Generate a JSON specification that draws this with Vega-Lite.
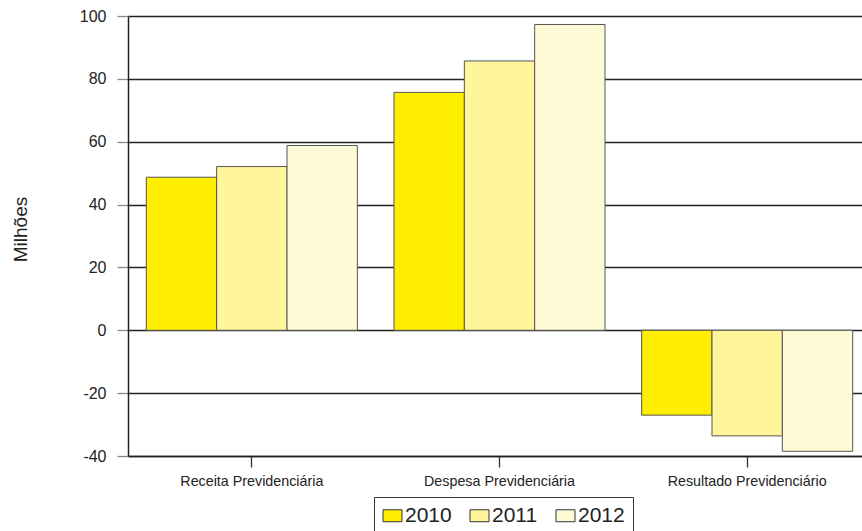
{
  "$schema": "https://vega.github.io/schema/vega-lite/v6.json",
  "width": 734,
  "height": 440,
  "autosize": {"type": "none"},
  "padding": {"left": 128, "top": 16, "right": 0, "bottom": 75},
  "background": "white",
  "config": {
    "view": {"stroke": null},
    "font": "Liberation Sans"
  },
  "data": {
    "values": [
      {"categoria": "Receita Previdenciária", "ano": "2010", "valor": 48.7},
      {"categoria": "Receita Previdenciária", "ano": "2011", "valor": 52.1},
      {"categoria": "Receita Previdenciária", "ano": "2012", "valor": 58.8},
      {"categoria": "Despesa Previdenciária", "ano": "2010", "valor": 75.7},
      {"categoria": "Despesa Previdenciária", "ano": "2011", "valor": 85.7},
      {"categoria": "Despesa Previdenciária", "ano": "2012", "valor": 97.3},
      {"categoria": "Resultado Previdenciário", "ano": "2010", "valor": -27.0},
      {"categoria": "Resultado Previdenciário", "ano": "2011", "valor": -33.6},
      {"categoria": "Resultado Previdenciário", "ano": "2012", "valor": -38.5}
    ]
  },
  "mark": {"type": "bar", "stroke": "#555555", "strokeWidth": 1},
  "encoding": {
    "x": {
      "field": "categoria",
      "type": "nominal",
      "sort": ["Receita Previdenciária", "Despesa Previdenciária", "Resultado Previdenciário"],
      "scale": {"range": [0, 743], "paddingInner": 0.148, "paddingOuter": 0.074},
      "axis": {
        "title": null,
        "labelAngle": 0,
        "labelFont": "Liberation Sans",
        "labelFontSize": 14.3,
        "labelColor": "#222222",
        "labelPadding": 7,
        "tickSize": 11,
        "tickColor": "#333333",
        "tickWidth": 1.3,
        "domainColor": "#222222",
        "domainWidth": 1.5,
        "bandPosition": 0.5,
        "grid": false
      }
    },
    "xOffset": {
      "field": "ano",
      "type": "nominal",
      "scale": {"paddingInner": 0, "paddingOuter": 0}
    },
    "y": {
      "field": "valor",
      "type": "quantitative",
      "scale": {"domain": [-40, 100], "nice": false, "zero": false},
      "axis": {
        "title": "Milhões",
        "titleFont": "Liberation Sans",
        "titleFontSize": 19,
        "titleFontWeight": "normal",
        "titleColor": "#222222",
        "titleX": -108,
        "titleY": 213,
        "titleAngle": -90,
        "titleAlign": "center",
        "titleBaseline": "middle",
        "values": [-40, -20, 0, 20, 40, 60, 80, 100],
        "labelExpr": "'' + datum.value",
        "labelFont": "Liberation Sans",
        "labelFontSize": 16,
        "labelColor": "#222222",
        "labelPadding": 11,
        "tickSize": 11,
        "tickColor": "#888888",
        "tickWidth": 1.3,
        "domainColor": "#222222",
        "domainWidth": 1.5,
        "grid": true,
        "gridColor": "#222222",
        "gridWidth": 1.3,
        "gridOpacity": 1
      }
    },
    "fill": {
      "field": "ano",
      "type": "nominal",
      "scale": {"domain": ["2010", "2011", "2012"], "range": ["#FFEE00", "#FFF59B", "#FFFAD6"]},
      "legend": {
        "title": null,
        "orient": "none",
        "direction": "horizontal",
        "legendX": 246,
        "legendY": 481,
        "strokeColor": "#333333",
        "padding": 8,
        "symbolType": "M-1,-0.63H1V0.63H-1Z",
        "symbolSize": 361,
        "symbolStrokeColor": "#333333",
        "symbolStrokeWidth": 1,
        "symbolOpacity": 1,
        "labelFont": "Liberation Sans",
        "labelFontSize": 21,
        "labelColor": "#222222",
        "labelOffset": 2,
        "columnPadding": 16
      }
    }
  }
}
